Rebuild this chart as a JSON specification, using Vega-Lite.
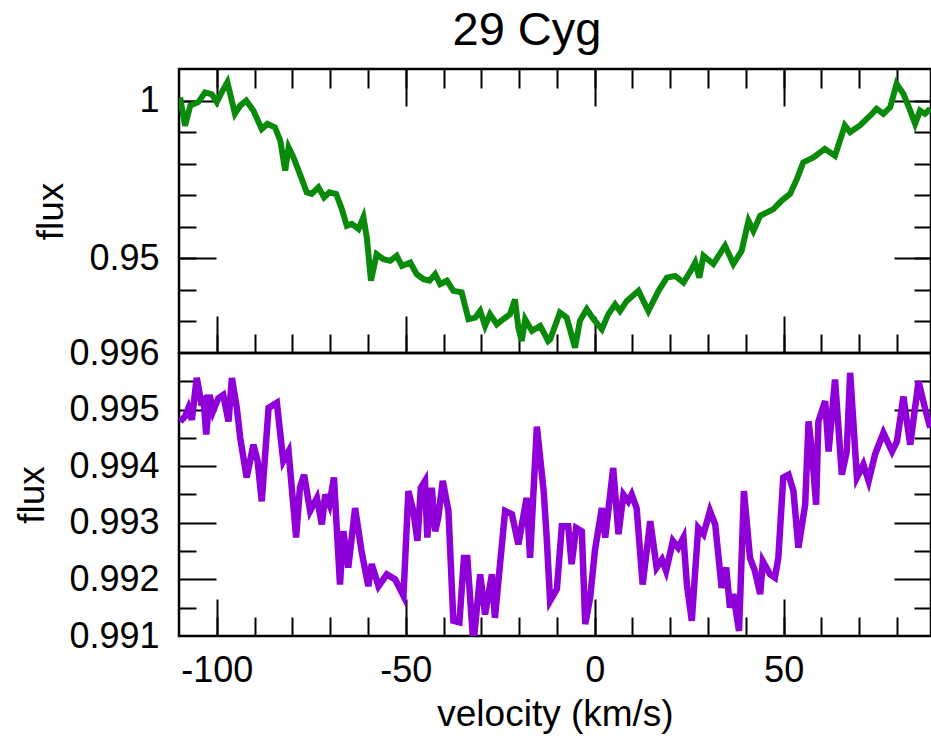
{
  "$schema": "https://vega.github.io/schema/vega-lite/v6.json",
  "background": "white",
  "padding": {"left": 12, "right": 0, "top": 6, "bottom": 0},
  "bounds": "flush",
  "spacing": 0,
  "title": {"text": "29 Cyg", "fontSize": 47, "font": "Liberation Sans", "fontWeight": "normal", "color": "black", "anchor": "middle", "offset": 12, "dx": 54},
  "config": {
    "view": {"stroke": "black", "strokeWidth": 2.5},
    "axis": {"grid": false, "domain": false, "labelFont": "Liberation Sans", "labelFontSize": 36, "labelColor": "black", "titleFont": "Liberation Sans", "titleFontSize": 37, "titleFontWeight": "normal", "titleColor": "black", "tickColor": "black", "tickWidth": 2}
  },
  "datasets": {
    "green": [
      {"v": -109.7, "f": 1.001}, {"v": -108.4, "f": 0.992}, {"v": -107.0, "f": 0.9984}, {"v": -104.9, "f": 0.9995}, {"v": -103.1, "f": 1.0026}, {"v": -101.3, "f": 1.002}, {"v": -100.0, "f": 0.9995}, {"v": -98.7, "f": 1.0026}, {"v": -97.2, "f": 1.0058}, {"v": -95.2, "f": 0.9958}, {"v": -93.8, "f": 0.9984}, {"v": -92.2, "f": 1.0}, {"v": -90.3, "f": 0.9968}, {"v": -88.1, "f": 0.991}, {"v": -86.6, "f": 0.9926}, {"v": -84.6, "f": 0.9915}, {"v": -83.2, "f": 0.9873}, {"v": -81.9, "f": 0.9778}, {"v": -81.0, "f": 0.9852}, {"v": -79.7, "f": 0.982}, {"v": -78.0, "f": 0.9767}, {"v": -76.2, "f": 0.9709}, {"v": -74.9, "f": 0.9704}, {"v": -73.1, "f": 0.9725}, {"v": -71.6, "f": 0.9693}, {"v": -70.2, "f": 0.9709}, {"v": -68.4, "f": 0.9704}, {"v": -66.9, "f": 0.9656}, {"v": -65.6, "f": 0.9603}, {"v": -64.3, "f": 0.9609}, {"v": -62.5, "f": 0.9593}, {"v": -61.2, "f": 0.963}, {"v": -60.3, "f": 0.9566}, {"v": -59.2, "f": 0.9429}, {"v": -57.7, "f": 0.9513}, {"v": -55.9, "f": 0.9497}, {"v": -54.1, "f": 0.9492}, {"v": -52.4, "f": 0.9508}, {"v": -51.0, "f": 0.9476}, {"v": -48.8, "f": 0.9487}, {"v": -47.1, "f": 0.945}, {"v": -45.3, "f": 0.9434}, {"v": -43.7, "f": 0.9429}, {"v": -42.2, "f": 0.945}, {"v": -40.9, "f": 0.9418}, {"v": -39.1, "f": 0.9429}, {"v": -37.4, "f": 0.9397}, {"v": -35.2, "f": 0.9392}, {"v": -33.4, "f": 0.9307}, {"v": -31.6, "f": 0.9312}, {"v": -30.3, "f": 0.9333}, {"v": -29.0, "f": 0.9286}, {"v": -27.7, "f": 0.9323}, {"v": -25.9, "f": 0.9291}, {"v": -24.2, "f": 0.9307}, {"v": -22.4, "f": 0.9323}, {"v": -21.1, "f": 0.937}, {"v": -20.2, "f": 0.928}, {"v": -19.3, "f": 0.9238}, {"v": -18.4, "f": 0.9307}, {"v": -16.6, "f": 0.927}, {"v": -14.4, "f": 0.9286}, {"v": -12.3, "f": 0.9238}, {"v": -11.8, "f": 0.9243}, {"v": -9.2, "f": 0.9328}, {"v": -7.4, "f": 0.9312}, {"v": -5.2, "f": 0.9217}, {"v": -3.9, "f": 0.9302}, {"v": -2.1, "f": 0.9339}, {"v": -0.3, "f": 0.9307}, {"v": 1.9, "f": 0.9275}, {"v": 3.6, "f": 0.9323}, {"v": 5.4, "f": 0.9354}, {"v": 6.7, "f": 0.9333}, {"v": 8.5, "f": 0.9365}, {"v": 11.6, "f": 0.9397}, {"v": 14.2, "f": 0.9333}, {"v": 16.9, "f": 0.9397}, {"v": 19.1, "f": 0.9439}, {"v": 21.3, "f": 0.9444}, {"v": 23.5, "f": 0.9423}, {"v": 25.7, "f": 0.9466}, {"v": 26.6, "f": 0.9487}, {"v": 27.7, "f": 0.9439}, {"v": 28.8, "f": 0.9508}, {"v": 31.4, "f": 0.9482}, {"v": 34.5, "f": 0.954}, {"v": 36.7, "f": 0.9482}, {"v": 38.9, "f": 0.9524}, {"v": 40.7, "f": 0.9619}, {"v": 42.0, "f": 0.9587}, {"v": 43.8, "f": 0.9635}, {"v": 47.3, "f": 0.9656}, {"v": 49.5, "f": 0.9683}, {"v": 51.7, "f": 0.9704}, {"v": 53.5, "f": 0.9751}, {"v": 55.2, "f": 0.9804}, {"v": 57.9, "f": 0.982}, {"v": 60.9, "f": 0.9847}, {"v": 63.6, "f": 0.9825}, {"v": 66.2, "f": 0.9921}, {"v": 67.6, "f": 0.99}, {"v": 70.2, "f": 0.9921}, {"v": 72.9, "f": 0.9952}, {"v": 74.6, "f": 0.9974}, {"v": 76.4, "f": 0.9958}, {"v": 78.2, "f": 0.9979}, {"v": 79.9, "f": 1.0053}, {"v": 81.7, "f": 1.0021}, {"v": 83.5, "f": 0.9968}, {"v": 84.8, "f": 0.9926}, {"v": 86.1, "f": 0.9968}, {"v": 87.4, "f": 0.9958}, {"v": 88.8, "f": 0.9974}
    ],
    "purple": [
      {"v": -109.7, "f": 0.99479}, {"v": -108.4, "f": 0.99488}, {"v": -107.5, "f": 0.99503}, {"v": -106.6, "f": 0.99482}, {"v": -105.3, "f": 0.99556}, {"v": -104.2, "f": 0.99515}, {"v": -103.5, "f": 0.99518}, {"v": -102.8, "f": 0.99456}, {"v": -101.9, "f": 0.99526}, {"v": -101.0, "f": 0.99497}, {"v": -99.6, "f": 0.9952}, {"v": -98.3, "f": 0.99526}, {"v": -96.9, "f": 0.99479}, {"v": -96.0, "f": 0.99556}, {"v": -94.7, "f": 0.99503}, {"v": -93.8, "f": 0.9945}, {"v": -92.1, "f": 0.9938}, {"v": -90.3, "f": 0.99438}, {"v": -89.2, "f": 0.99409}, {"v": -88.1, "f": 0.99338}, {"v": -86.3, "f": 0.99503}, {"v": -84.1, "f": 0.99512}, {"v": -82.4, "f": 0.99409}, {"v": -81.0, "f": 0.99426}, {"v": -79.0, "f": 0.99274}, {"v": -78.0, "f": 0.99362}, {"v": -76.9, "f": 0.99385}, {"v": -75.3, "f": 0.99321}, {"v": -73.5, "f": 0.99344}, {"v": -72.2, "f": 0.99297}, {"v": -71.3, "f": 0.9935}, {"v": -70.2, "f": 0.99332}, {"v": -69.0, "f": 0.9938}, {"v": -67.4, "f": 0.99191}, {"v": -66.5, "f": 0.99285}, {"v": -65.2, "f": 0.99221}, {"v": -63.4, "f": 0.99326}, {"v": -61.7, "f": 0.9925}, {"v": -59.9, "f": 0.99188}, {"v": -59.0, "f": 0.99227}, {"v": -57.2, "f": 0.99188}, {"v": -55.0, "f": 0.99209}, {"v": -52.8, "f": 0.992}, {"v": -50.6, "f": 0.99171}, {"v": -49.3, "f": 0.99356}, {"v": -48.0, "f": 0.99321}, {"v": -46.9, "f": 0.99268}, {"v": -46.0, "f": 0.99362}, {"v": -44.9, "f": 0.99374}, {"v": -44.3, "f": 0.99274}, {"v": -43.1, "f": 0.99362}, {"v": -42.2, "f": 0.99285}, {"v": -41.4, "f": 0.99309}, {"v": -40.2, "f": 0.99374}, {"v": -38.7, "f": 0.99321}, {"v": -37.4, "f": 0.99127}, {"v": -35.8, "f": 0.99124}, {"v": -34.6, "f": 0.99238}, {"v": -33.7, "f": 0.99238}, {"v": -32.1, "f": 0.99085}, {"v": -30.3, "f": 0.99209}, {"v": -29.0, "f": 0.99138}, {"v": -27.2, "f": 0.99209}, {"v": -26.4, "f": 0.99132}, {"v": -23.7, "f": 0.99321}, {"v": -21.9, "f": 0.99315}, {"v": -20.2, "f": 0.99262}, {"v": -18.0, "f": 0.99344}, {"v": -17.1, "f": 0.99238}, {"v": -15.3, "f": 0.9947}, {"v": -13.5, "f": 0.99356}, {"v": -12.7, "f": 0.99274}, {"v": -11.8, "f": 0.99162}, {"v": -10.0, "f": 0.99183}, {"v": -8.7, "f": 0.99294}, {"v": -7.0, "f": 0.99294}, {"v": -6.1, "f": 0.99227}, {"v": -4.9, "f": 0.99291}, {"v": -3.4, "f": 0.99285}, {"v": -2.5, "f": 0.99121}, {"v": -1.2, "f": 0.99168}, {"v": 0.1, "f": 0.99253}, {"v": 1.9, "f": 0.99326}, {"v": 2.8, "f": 0.99274}, {"v": 4.9, "f": 0.99397}, {"v": 6.3, "f": 0.9928}, {"v": 7.6, "f": 0.9935}, {"v": 8.9, "f": 0.99338}, {"v": 9.8, "f": 0.9935}, {"v": 11.1, "f": 0.99326}, {"v": 12.7, "f": 0.99191}, {"v": 14.7, "f": 0.99303}, {"v": 16.4, "f": 0.99221}, {"v": 17.8, "f": 0.99235}, {"v": 18.9, "f": 0.99215}, {"v": 20.7, "f": 0.99268}, {"v": 22.1, "f": 0.99256}, {"v": 23.5, "f": 0.99274}, {"v": 24.4, "f": 0.99191}, {"v": 25.7, "f": 0.99127}, {"v": 27.4, "f": 0.99291}, {"v": 28.8, "f": 0.9928}, {"v": 30.5, "f": 0.99321}, {"v": 31.9, "f": 0.99297}, {"v": 33.6, "f": 0.99185}, {"v": 34.8, "f": 0.99221}, {"v": 35.8, "f": 0.9915}, {"v": 36.7, "f": 0.99174}, {"v": 38.2, "f": 0.99109}, {"v": 39.5, "f": 0.99356}, {"v": 41.1, "f": 0.99238}, {"v": 42.4, "f": 0.99215}, {"v": 43.8, "f": 0.99174}, {"v": 44.5, "f": 0.99232}, {"v": 46.4, "f": 0.99209}, {"v": 47.7, "f": 0.99203}, {"v": 48.6, "f": 0.99238}, {"v": 49.9, "f": 0.9938}, {"v": 51.3, "f": 0.99385}, {"v": 52.6, "f": 0.99356}, {"v": 53.9, "f": 0.99256}, {"v": 55.7, "f": 0.99332}, {"v": 56.6, "f": 0.99479}, {"v": 57.5, "f": 0.99426}, {"v": 58.6, "f": 0.99332}, {"v": 59.2, "f": 0.99479}, {"v": 61.0, "f": 0.99515}, {"v": 61.9, "f": 0.99426}, {"v": 63.6, "f": 0.99553}, {"v": 65.4, "f": 0.99385}, {"v": 66.7, "f": 0.99426}, {"v": 67.6, "f": 0.99565}, {"v": 69.4, "f": 0.9938}, {"v": 71.1, "f": 0.99403}, {"v": 72.5, "f": 0.99374}, {"v": 74.2, "f": 0.99421}, {"v": 76.4, "f": 0.99459}, {"v": 78.7, "f": 0.99426}, {"v": 80.0, "f": 0.99444}, {"v": 81.7, "f": 0.99523}, {"v": 83.5, "f": 0.99438}, {"v": 85.7, "f": 0.9955}, {"v": 87.4, "f": 0.99503}, {"v": 88.8, "f": 0.99468}
    ]
  },
  "vconcat": [
    {
      "width": 752,
      "height": 284,
      "data": {"name": "green"},
      "resolve": {"axis": {"x": "independent", "y": "independent"}},
      "layer": [
        {
          "mark": {"type": "line", "color": "#0a8a0a", "strokeWidth": 6, "clip": true, "strokeJoin": "miter"},
          "encoding": {
            "x": {"field": "v", "type": "quantitative", "sort": null, "scale": {"domain": [-110, 89], "nice": false, "zero": false}, "axis": null},
            "y": {"field": "f", "type": "quantitative", "scale": {"domain": [0.92, 1.01], "nice": false, "zero": false}, "axis": {"orient": "left", "values": [0.95, 1.0], "labelExpr": "'' + datum.value", "ticks": false, "labelPadding": 20, "title": "flux", "titlePadding": 18}}
          }
        },
        {
          "mark": {"type": "line", "strokeOpacity": 0},
          "encoding": {
            "x": {"field": "v", "type": "quantitative", "scale": {"domain": [-110, 89], "nice": false, "zero": false}, "axis": {"orient": "bottom", "values": [-100, -50, 0, 50], "labels": false, "tickSize": -37, "title": null}},
            "y": {"field": "f", "type": "quantitative", "scale": {"domain": [0.92, 1.01], "nice": false, "zero": false}, "axis": {"orient": "left", "values": [0.95, 1.0], "labels": false, "tickSize": -37, "title": null}}
          }
        },
        {
          "mark": {"type": "line", "strokeOpacity": 0},
          "encoding": {
            "x": {"field": "v", "type": "quantitative", "scale": {"domain": [-110, 89], "nice": false, "zero": false}, "axis": {"orient": "bottom", "values": [-100, -90, -80, -70, -60, -50, -40, -30, -20, -10, 0, 10, 20, 30, 40, 50, 60, 70, 80], "labels": false, "tickSize": -19, "title": null}},
            "y": {"field": "f", "type": "quantitative", "scale": {"domain": [0.92, 1.01], "nice": false, "zero": false}, "axis": {"orient": "left", "values": [0.93, 0.94, 0.95, 0.96, 0.97, 0.98, 0.99, 1.0], "labels": false, "tickSize": -17, "title": null}}
          }
        },
        {
          "mark": {"type": "line", "strokeOpacity": 0},
          "encoding": {
            "x": {"field": "v", "type": "quantitative", "scale": {"domain": [-110, 89], "nice": false, "zero": false}, "axis": {"orient": "top", "values": [-100, -50, 0, 50], "labels": false, "tickSize": -37, "title": null}},
            "y": {"field": "f", "type": "quantitative", "scale": {"domain": [0.92, 1.01], "nice": false, "zero": false}, "axis": {"orient": "right", "values": [0.95, 1.0], "labels": false, "tickSize": -37, "title": null}}
          }
        },
        {
          "mark": {"type": "line", "strokeOpacity": 0},
          "encoding": {
            "x": {"field": "v", "type": "quantitative", "scale": {"domain": [-110, 89], "nice": false, "zero": false}, "axis": {"orient": "top", "values": [-100, -90, -80, -70, -60, -50, -40, -30, -20, -10, 0, 10, 20, 30, 40, 50, 60, 70, 80], "labels": false, "tickSize": -19, "title": null}},
            "y": {"field": "f", "type": "quantitative", "scale": {"domain": [0.92, 1.01], "nice": false, "zero": false}, "axis": {"orient": "right", "values": [0.93, 0.94, 0.95, 0.96, 0.97, 0.98, 0.99, 1.0], "labels": false, "tickSize": -17, "title": null}}
          }
        }
      ]
    },
    {
      "width": 752,
      "height": 283,
      "data": {"name": "purple"},
      "resolve": {"axis": {"x": "independent", "y": "independent"}},
      "layer": [
        {
          "mark": {"type": "line", "color": "#8f00d8", "strokeWidth": 6.5, "clip": true, "strokeJoin": "miter"},
          "encoding": {
            "x": {"field": "v", "type": "quantitative", "sort": null, "scale": {"domain": [-110, 89], "nice": false, "zero": false}, "axis": {"orient": "bottom", "values": [-100, -50, 0, 50], "labelExpr": "'' + datum.value", "ticks": false, "labelPadding": 17, "title": "velocity (km/s)", "titlePadding": 8}},
            "y": {"field": "f", "type": "quantitative", "scale": {"domain": [0.991, 0.996], "nice": false, "zero": false}, "axis": {"orient": "left", "values": [0.991, 0.992, 0.993, 0.994, 0.995, 0.996], "labelExpr": "format(datum.value, '.3f')", "ticks": false, "labelPadding": 20, "title": "flux", "titlePadding": 17}}
          }
        },
        {
          "mark": {"type": "line", "strokeOpacity": 0},
          "encoding": {
            "x": {"field": "v", "type": "quantitative", "scale": {"domain": [-110, 89], "nice": false, "zero": false}, "axis": {"orient": "bottom", "values": [-100, -50, 0, 50], "labels": false, "tickSize": -37, "title": null}},
            "y": {"field": "f", "type": "quantitative", "scale": {"domain": [0.991, 0.996], "nice": false, "zero": false}, "axis": {"orient": "left", "values": [0.992, 0.993, 0.994, 0.995], "labels": false, "tickSize": -37, "title": null}}
          }
        },
        {
          "mark": {"type": "line", "strokeOpacity": 0},
          "encoding": {
            "x": {"field": "v", "type": "quantitative", "scale": {"domain": [-110, 89], "nice": false, "zero": false}, "axis": {"orient": "bottom", "values": [-100, -90, -80, -70, -60, -50, -40, -30, -20, -10, 0, 10, 20, 30, 40, 50, 60, 70, 80], "labels": false, "tickSize": -19, "title": null}},
            "y": {"field": "f", "type": "quantitative", "scale": {"domain": [0.991, 0.996], "nice": false, "zero": false}, "axis": {"orient": "left", "values": [0.9915, 0.9925, 0.9935, 0.9945, 0.9955], "labels": false, "tickSize": -17, "title": null}}
          }
        },
        {
          "mark": {"type": "line", "strokeOpacity": 0},
          "encoding": {
            "x": {"field": "v", "type": "quantitative", "scale": {"domain": [-110, 89], "nice": false, "zero": false}, "axis": null},
            "y": {"field": "f", "type": "quantitative", "scale": {"domain": [0.991, 0.996], "nice": false, "zero": false}, "axis": {"orient": "right", "values": [0.992, 0.993, 0.994, 0.995], "labels": false, "tickSize": -37, "title": null}}
          }
        },
        {
          "mark": {"type": "line", "strokeOpacity": 0},
          "encoding": {
            "x": {"field": "v", "type": "quantitative", "scale": {"domain": [-110, 89], "nice": false, "zero": false}, "axis": null},
            "y": {"field": "f", "type": "quantitative", "scale": {"domain": [0.991, 0.996], "nice": false, "zero": false}, "axis": {"orient": "right", "values": [0.9915, 0.9925, 0.9935, 0.9945, 0.9955], "labels": false, "tickSize": -17, "title": null}}
          }
        }
      ]
    }
  ]
}
